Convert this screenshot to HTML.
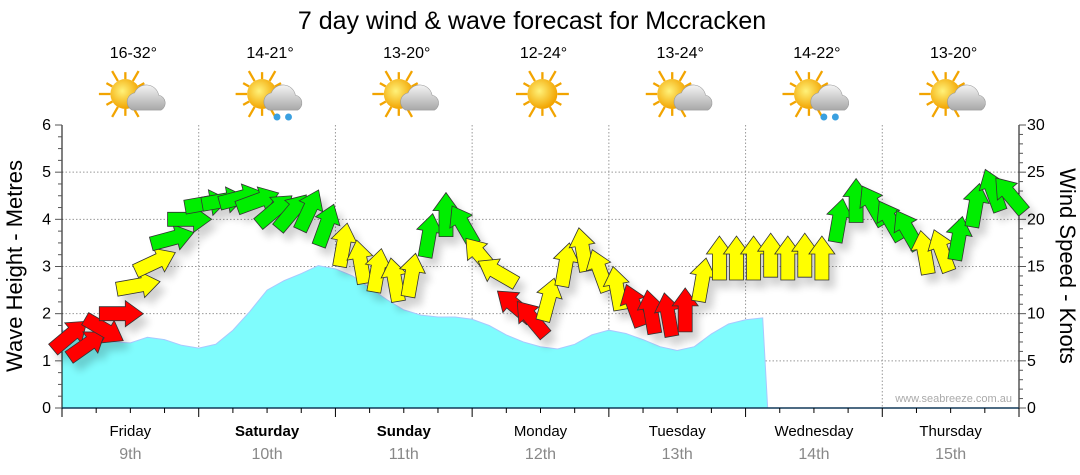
<!DOCTYPE html>
<html><head><meta charset="utf-8"><style>
body{margin:0;background:#fff;font-family:"Liberation Sans",sans-serif}
svg{display:block}
</style></head><body>
<svg id="chart" width="1080" height="475" viewBox="0 0 1080 475" xmlns="http://www.w3.org/2000/svg" font-family="Liberation Sans, sans-serif">
<defs>
<filter id="sh" x="-50%" y="-50%" width="200%" height="200%"><feGaussianBlur in="SourceAlpha" stdDeviation="4"/><feOffset dx="6" dy="8"/><feComponentTransfer><feFuncA type="linear" slope="0.18"/></feComponentTransfer><feMerge><feMergeNode/><feMergeNode in="SourceGraphic"/></feMerge></filter>
<radialGradient id="sun" cx="0.4" cy="0.4" r="0.6"><stop offset="0" stop-color="#fff27a"/><stop offset="1" stop-color="#f2a400"/></radialGradient>
<linearGradient id="cloud" x1="0" y1="0" x2="0" y2="1"><stop offset="0" stop-color="#f4f4f4"/><stop offset="1" stop-color="#a8a8a8"/></linearGradient>
</defs>
<text x="532" y="29" font-size="25" text-anchor="middle" fill="#000">7 day wind &amp; wave forecast for Mccracken</text>
<g id="grid"></g>
<g id="wave"></g>
<g id="axes"></g>
<g id="wind" filter="url(#sh)"></g>
<g id="header"></g>
<text transform="translate(22,266) rotate(-90)" font-size="22" text-anchor="middle">Wave Height - Metres</text>
<text transform="translate(1060,266) rotate(90)" font-size="22" text-anchor="middle">Wind Speed - Knots</text>
<text x="1012" y="402" font-size="11" text-anchor="end" fill="#aaa">www.seabreeze.com.au</text>
</svg>
<script>
const days=["Friday","Saturday","Sunday","Monday","Tuesday","Wednesday","Thursday"];
const dates=["9th","10th","11th","12th","13th","14th","15th"];
const boldDays=[false,true,true,false,false,false,false];
const temps=["16-32°","14-21°","13-20°","12-24°","13-24°","14-22°","13-20°"];
const icons=["cloud","rain","cloud","sun","cloud","rain","cloud"];
const waveTicks=[0,1,2,3,4,5,6];
const windTicks=[0,5,10,15,20,25,30];
// wave height (m) every 3 hours from Friday 00:00
const wave=[1.65,1.62,1.5,1.4,1.38,1.5,1.45,1.33,1.27,1.35,1.65,2.05,2.5,2.7,2.85,3.02,2.95,2.8,2.55,2.3,2.08,1.97,1.93,1.93,1.88,1.75,1.55,1.4,1.3,1.25,1.35,1.55,1.65,1.58,1.45,1.3,1.22,1.3,1.57,1.78,1.87,1.91];
// wind speed (knots) every 3 hours
const windSpeed=[7.7,6.7,8.3,10,13,15.5,18,20,21.7,22,22.3,22,21,20.8,21,19.4,17.3,15.5,14.6,13.6,14.1,18.3,20.5,19.4,16.2,14.4,10.9,9.5,11.5,15.2,16.8,14.6,12.7,10.9,10.2,9.9,10.4,13.6,15.9,15.9,15.9,16.2,15.9,16.2,15.9,19.9,22,21.5,19.9,18.9,16.5,16.7,18,21.5,23.1,22.6];
// arrow direction (degrees, 0 = pointing right, 90 = up)
const windDir=[40,35,-30,0,10,25,15,0,10,10,15,20,40,50,65,70,80,100,80,100,80,80,90,120,130,150,140,130,75,80,100,110,100,110,100,100,90,80,90,90,90,90,90,90,90,80,90,120,120,120,100,110,80,80,110,130];

const NS="http://www.w3.org/2000/svg";
const X0=62,X1=1019,Y0=408,Y1=125,DAYW=(X1-X0)/7,STEP=DAYW/8;
const yM=v=>Y0-(Y0-Y1)*v/6;
const yK=v=>Y0-(Y0-Y1)*v/30;
const xT=i=>X0+STEP*i;
function mk(tag,attrs,parent){const e=document.createElementNS(NS,tag);for(const k in attrs)e.setAttribute(k,attrs[k]);parent.appendChild(e);return e;}
const grid=document.getElementById('grid'),axes=document.getElementById('axes'),waveG=document.getElementById('wave'),windG=document.getElementById('wind'),hdr=document.getElementById('header');

waveTicks.forEach(t=>{if(t>0&&t<6){const l=mk('line',{x1:X0,x2:X1,y1:yM(t),y2:yM(t),stroke:'#999','stroke-dasharray':'1.5,2','stroke-width':1},grid);

}});
for(let d=1;d<7;d++){const l=mk('line',{x1:X0+DAYW*d,x2:X0+DAYW*d,y1:Y1,y2:Y0,stroke:'#999','stroke-dasharray':'1.5,2','stroke-width':1},grid);

}

// wave area
let p='M'+X0+','+Y0;
wave.forEach((v,i)=>{p+=' L'+xT(i).toFixed(1)+','+yM(v).toFixed(1);});
const lastX=xT(wave.length-1);
p+=' L'+(lastX+5)+','+Y0+' Z';
const wa=mk('path',{d:p,fill:'#7ffcfd',stroke:'#a8c8ff','stroke-width':1},waveG);



// axes
mk('line',{x1:X0,x2:X0,y1:Y1,y2:Y0,stroke:'#000'},axes);
mk('line',{x1:X1,x2:X1,y1:Y1,y2:Y0,stroke:'#000'},axes);
mk('line',{x1:X0,x2:X1,y1:Y0,y2:Y0,stroke:'#123a5a','stroke-width':1.5},axes);
for(let m=0;m<=24;m++){const y=Y0-(Y0-Y1)*m/24;mk('line',{x1:X0-(m%4?4:7),x2:X0,y1:y,y2:y,stroke:'#555'},axes);}
for(let k=0;k<=30;k++){const y=yK(k);mk('line',{x1:X1,x2:X1+(k%5?4:7),y1:y,y2:y,stroke:'#555'},axes);}
waveTicks.forEach(t=>{const e=mk('text',{x:X0-11,y:yM(t)+5,'font-size':16,'text-anchor':'end'},axes);e.textContent=t;

});
windTicks.forEach(t=>{const e=mk('text',{x:X1+8,y:yK(t)+5,'font-size':16},axes);e.textContent=t;

});
for(let i=0;i<=28;i++){const x=X0+DAYW*i/4;mk('line',{x1:x,x2:x,y1:Y0,y2:Y0+(i%4?5:9),stroke:'#000'},axes);}
days.forEach((d,i)=>{const cx=X0+DAYW*(i+0.5);
const t=mk('text',{x:cx,y:436,'font-size':15,'text-anchor':'middle','font-weight':boldDays[i]?'bold':'normal'},axes);t.textContent=d;


const t2=mk('text',{x:cx,y:459,'font-size':16,'text-anchor':'middle',fill:'#888'},axes);t2.textContent=dates[i];


const t3=mk('text',{x:cx+3,y:58,'font-size':16,'text-anchor':'middle'},hdr);t3.textContent=temps[i];


const g=mk('g',{transform:'translate('+(cx-5)+',94) scale(1.15)'},hdr);


const sx=icons[i]==='sun'?6:0;
for(let r=0;r<12;r++){const a=r*Math.PI/6;mk('line',{x1:sx+Math.cos(a)*13,y1:Math.sin(a)*13,x2:sx+Math.cos(a)*(r%2?19:23),y2:Math.sin(a)*(r%2?19:23),stroke:'#f2a400','stroke-width':2},g);}
mk('circle',{cx:sx,cy:0,r:13,fill:'url(#sun)'},g);
if(icons[i]!=='sun'){mk('path',{d:'M6,14 a8,8 0 0 1 2,-15 a11,11 0 0 1 21,2 a7,7 0 0 1 2,13 Z',fill:'url(#cloud)',stroke:'#999','stroke-width':0.5},g);}
if(icons[i]==='rain'){mk('circle',{cx:13,cy:20,r:3,fill:'#3aa0e0'},g);mk('circle',{cx:23,cy:20,r:3,fill:'#3aa0e0'},g);}
});

// wind arrows
const shape='-22,-7 4,-7 4,-13 22,0 4,13 4,7 -22,7';
windSpeed.forEach((v,i)=>{const x=X0+8+STEP*i,y=yK(v);
const col=v<11.2?'#ff0000':(v<17.6?'#ffff00':'#00ee00');
const a=mk('polygon',{points:shape,transform:'translate('+x.toFixed(1)+','+y.toFixed(1)+') rotate('+(-windDir[i])+')',fill:col,stroke:'#333','stroke-width':0.8},windG);

});
</script>
</body></html>
